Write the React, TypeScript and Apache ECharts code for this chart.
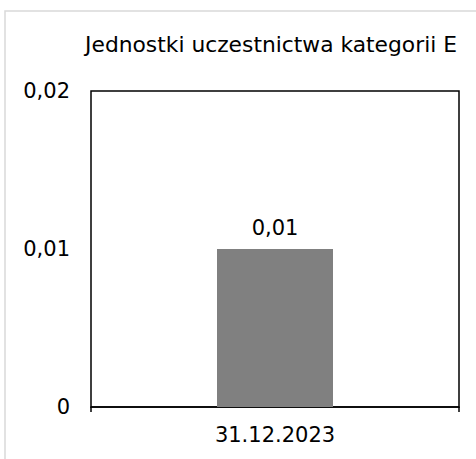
import React, { useEffect, useRef } from "react";
import * as echarts from "echarts";

const categories = ["31.12.2023"];
const values = [0.01];
const yTicks = [0, 0.01, 0.02];
const title = "Jednostki uczestnictwa kategorii E";

const fmt = (v: number) => String(v).replace(".", ",");
const FS = 21;

export default function App() {
  const ref = useRef<HTMLDivElement>(null);
  useEffect(() => {
    if (!ref.current) return;
    const chart = echarts.init(ref.current, null, { renderer: "svg" });
    chart.setOption({
      animation: false,
      backgroundColor: "#fff",
      textStyle: { fontFamily: "DejaVu Sans" },
      title: {
        text: title,
        left: 266,
        textAlign: "center",
        top: 28,
        textStyle: { fontSize: 21.8, fontWeight: "normal", color: "#000", fontFamily: "DejaVu Sans" },
      },
      graphic: [
        {
          type: "rect",
          shape: { x: 5, y: 11, width: 480, height: 460 },
          style: { fill: "none", stroke: "#d9d9d9", lineWidth: 1.5 },
          silent: true,
          z: -1,
        },
      ],
      grid: {
        left: 91,
        right: 17,
        top: 91,
        bottom: 52,
        show: true,
        borderColor: "#000",
        borderWidth: 1.5,
        backgroundColor: "transparent",
      },
      xAxis: {
        type: "category",
        data: categories,
        axisLine: { show: true, lineStyle: { color: "#000", width: 1.5 } },
        axisTick: { show: true, length: 5, lineStyle: { color: "#000", width: 1.5 } },
        axisLabel: { color: "#000", fontSize: FS, margin: 17, fontFamily: "DejaVu Sans" },
      },
      yAxis: {
        type: "value",
        min: yTicks[0],
        max: yTicks[yTicks.length - 1],
        interval: yTicks[1] - yTicks[0],
        splitLine: { show: false },
        axisLine: { show: false },
        axisTick: { show: false },
        axisLabel: { color: "#000", fontSize: FS, margin: 21, formatter: (v: number) => fmt(v), fontFamily: "DejaVu Sans" },
      },
      series: [
        {
          type: "bar",
          data: values,
          barWidth: 116,
          itemStyle: { color: "#808080" },
          label: {
            show: true,
            position: "top",
            distance: 11,
            color: "#000",
            fontSize: FS,
            fontFamily: "DejaVu Sans",
            formatter: (p: any) => fmt(p.value),
          },
        },
      ],
    });
    return () => chart.dispose();
  }, []);
  return <div ref={ref} style={{ position: "fixed", left: 0, top: 0, width: 476, height: 459 }} />;
}
